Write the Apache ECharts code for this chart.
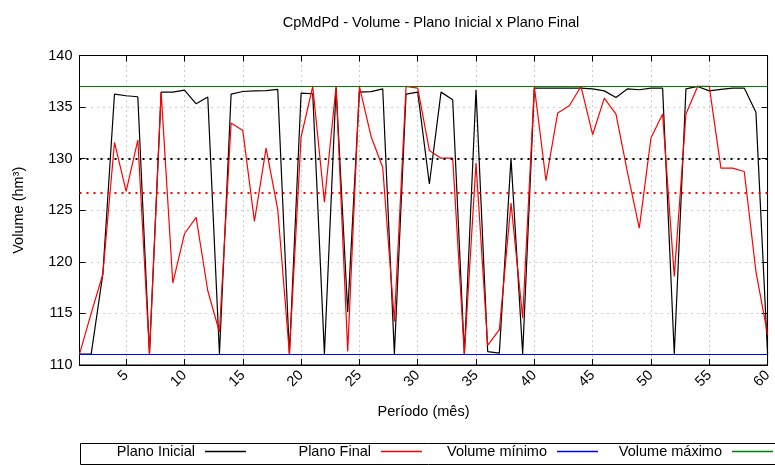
<!DOCTYPE html>
<html><head><meta charset="utf-8">
<script src="https://cdn.jsdelivr.net/npm/echarts@6/dist/echarts.min.js"></script>
<style>html,body{margin:0;padding:0;background:#fff}#c{width:775px;height:465px}</style>
</head><body><div id="c"></div>
<script>
const periodos = [1,2,3,4,5,6,7,8,9,10,11,12,13,14,15,16,17,18,19,20,21,22,23,24,25,26,27,28,29,30,31,32,33,34,35,36,37,38,39,40,41,42,43,44,45,46,47,48,49,50,51,52,53,54,55,56,57,58,59,60];
const planoInicial = [111.06,111.06,118.8,136.26,136.1,136.0,111.06,136.45,136.45,136.64,
  135.32,135.97,111.06,136.26,136.51,136.57,136.6,136.71,111.06,136.35,
  136.29,111.06,136.9,115.13,136.45,136.5,136.77,111.06,136.25,136.45,
  127.54,136.45,135.71,111.06,136.68,111.3,111.15,130.05,111.06,136.84,
  136.84,136.84,136.84,136.84,136.77,136.57,135.93,136.77,136.68,136.84,
  136.84,111.06,136.77,137.0,136.57,136.71,136.84,136.84,134.51,111.06];
const planoFinal = [111.06,115.0,118.8,131.57,126.82,131.8,111.06,136.45,117.94,122.72,
  124.31,117.2,113.2,133.45,132.74,123.92,131.02,125.05,111.06,132.1,
  137.0,125.79,137.0,111.32,137.0,132.15,129.15,114.23,137.0,136.84,
  130.8,130.05,130.05,111.06,129.57,111.9,113.42,125.69,114.55,137.0,
  127.86,134.42,135.13,137.0,132.32,135.87,134.32,128.6,123.27,132.0,
  134.32,118.59,134.32,137.0,137.0,129.09,129.09,128.76,119.07,112.94];
const volumeMinimo = 111.06;
const volumeMaximo = 137.0;
const mediaInicial = 130.0;
const mediaFinal = 126.66;
const yMin = 110, yMax = 140, yStep = 5;
const xStep = 5;

const FONT = 'Liberation Sans';
const FS = 14.5;
const showEvery = (i, v) => Number(v) % xStep === 0;

const chart = echarts.init(document.getElementById('c'), null, {renderer: 'canvas'});
const legendItem = (name, right, color) => ({
  data: [{name: name, icon: 'rect', itemStyle: {color: color, borderWidth: 0, opacity: 1}}],
  right: right, top: 444, orient: 'horizontal', align: 'right',
  padding: 0, itemWidth: 41, itemHeight: 1.5, selectedMode: false,
  itemStyle: {color: color, borderWidth: 0, opacity: 1},
  textStyle: {fontFamily: FONT, fontSize: FS, color: '#000', padding: [0, 5, 0, 0]}
});
chart.setOption({
  animation: false,
  backgroundColor: '#fff',
  title: {
    text: 'CpMdPd - Volume - Plano Inicial x Plano Final',
    left: 426, top: 10, textAlign: 'center',
    textStyle: {fontFamily: FONT, fontSize: FS, fontWeight: 'normal', color: '#000'}
  },
  grid: {left: 79.5, right: -1, top: 55.5, bottom: 100, show: true, borderColor: '#000', borderWidth: 1, containLabel: false},
  legend: [
    legendItem('Plano Inicial', 529, '#000000'),
    legendItem('Plano Final', 353, '#ff0000'),
    legendItem('Volume mínimo', 177, '#0000ff'),
    legendItem('Volume máximo', 2, '#008000')
  ],
  graphic: [{
    type: 'rect', left: 78, top: 441, silent: true,
    shape: {x: 0, y: 0, width: 702, height: 21},
    style: {fill: 'none', stroke: '#000', lineWidth: 1}
  }],
  xAxis: [{
    type: 'category', data: periodos, boundaryGap: false, position: 'bottom',
    name: 'Período (mês)', nameLocation: 'middle', nameGap: 39,
    nameTextStyle: {fontFamily: FONT, fontSize: FS, color: '#000'},
    axisLine: {show: true, lineStyle: {color: '#000', width: 1}},
    axisTick: {show: true, inside: true, length: 6, interval: showEvery, lineStyle: {color: '#000'}},
    axisLabel: {show: true, interval: showEvery, rotate: 45, margin: 8, fontFamily: FONT, fontSize: FS, color: '#000'},
    splitLine: {show: true, interval: showEvery, lineStyle: {color: '#999', type: [1, 4], width: 1}}
  }, {
    type: 'category', data: periodos, boundaryGap: false, position: 'top',
    axisLine: {show: true, lineStyle: {color: '#000'}},
    axisTick: {show: true, inside: true, length: 6, interval: showEvery, lineStyle: {color: '#000'}},
    axisLabel: {show: false}, splitLine: {show: false}
  }],
  yAxis: [{
    type: 'value', min: yMin, max: yMax, interval: yStep, position: 'left',
    name: 'Volume (hm³)', nameLocation: 'middle', nameGap: 53, nameRotate: 90,
    nameTextStyle: {fontFamily: FONT, fontSize: FS, color: '#000'},
    axisLine: {show: true, lineStyle: {color: '#000'}},
    axisTick: {show: true, inside: true, length: 6, lineStyle: {color: '#000'}},
    axisLabel: {show: true, margin: 7, fontFamily: FONT, fontSize: FS, color: '#000'},
    splitLine: {show: true, lineStyle: {color: '#999', type: [1, 5], width: 1}}
  }, {
    type: 'value', min: yMin, max: yMax, interval: yStep, position: 'right',
    axisLine: {show: true, lineStyle: {color: '#000'}},
    axisTick: {show: true, inside: true, length: 6, lineStyle: {color: '#000'}},
    axisLabel: {show: false}, splitLine: {show: false}
  }],
  series: [{
    name: 'Média Inicial', type: 'line', data: [], symbol: 'none', silent: true,
    markLine: {silent: true, symbol: ['none', 'none'], label: {show: false},
      lineStyle: {color: '#000', type: [2, 5], width: 2}, data: [{yAxis: mediaInicial}]}
  }, {
    name: 'Média Final', type: 'line', data: [], symbol: 'none', silent: true,
    markLine: {silent: true, symbol: ['none', 'none'], label: {show: false},
      lineStyle: {color: '#ff0000', type: [2, 5], width: 2}, data: [{yAxis: mediaFinal}]}
  }, {
    name: 'Plano Inicial', type: 'line', data: planoInicial, symbol: 'none',
    itemStyle: {color: '#000000'}, lineStyle: {color: '#000000', width: 1.2}
  }, {
    name: 'Plano Final', type: 'line', data: planoFinal, symbol: 'none',
    itemStyle: {color: '#ff0000'}, lineStyle: {color: '#ff0000', width: 1.2}
  }, {
    name: 'Volume mínimo', type: 'line', data: [], symbol: 'none',
    itemStyle: {color: '#0000ff'}, lineStyle: {color: '#0000ff', width: 1.2},
    markLine: {silent: true, symbol: ['none', 'none'], label: {show: false},
      lineStyle: {color: '#0000ff', type: 'solid', width: 1.2}, data: [{yAxis: volumeMinimo}]}
  }, {
    name: 'Volume máximo', type: 'line', data: [], symbol: 'none',
    itemStyle: {color: '#008000'}, lineStyle: {color: '#008000', width: 1.2},
    markLine: {silent: true, symbol: ['none', 'none'], label: {show: false},
      lineStyle: {color: '#008000', type: 'solid', width: 1.2}, data: [{yAxis: volumeMaximo}]}
  }]
});
</script></body></html>
